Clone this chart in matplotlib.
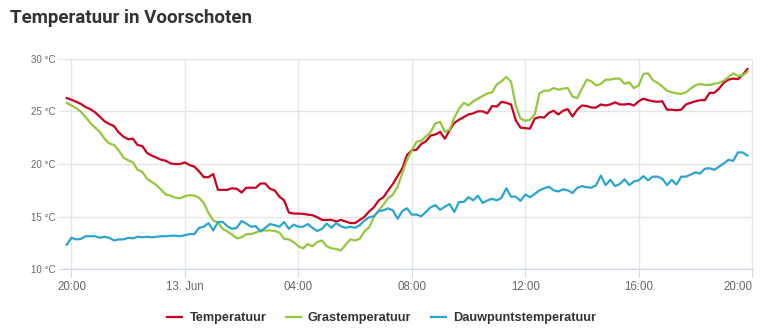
import matplotlib
matplotlib.use("Agg")
import matplotlib.pyplot as plt
import matplotlib.dates as mdates
import pandas as pd

# 10-minute readings, 12 June 19:50 -> 13 June 19:50
start = "2019-06-12 19:50"

temperatuur = [
    26.25, 26.1, 25.9, 25.7, 25.4, 25.2, 24.9, 24.5, 24.05, 23.8,
    23.6, 23.0, 22.6, 22.35, 22.4, 21.8, 21.7, 21.05, 20.8, 20.6,
    20.4, 20.3, 20.05, 20.0, 20.0, 20.15, 19.9, 19.75, 19.3, 18.75,
    18.75, 19.05, 17.55, 17.55, 17.55, 17.7, 17.65, 17.3, 17.75, 17.75,
    17.75, 18.15, 18.15, 17.65, 17.5, 16.9, 16.55, 15.4, 15.3, 15.3,
    15.27, 15.2, 15.15, 14.95, 14.7, 14.7, 14.7, 14.55, 14.7, 14.55,
    14.4, 14.4, 14.7, 15.0, 15.5, 15.9, 16.55, 16.85, 17.5, 18.1,
    18.85, 19.6, 20.85, 21.3, 21.35, 21.9, 22.15, 22.7, 22.8, 23.05,
    22.4, 23.2, 23.9, 24.2, 24.45, 24.7, 24.8, 25.0, 25.0, 24.8,
    25.5, 25.45, 25.9, 25.8, 25.65, 24.15, 23.45, 23.4, 23.35, 24.3,
    24.45, 24.4, 24.85, 25.05, 24.7, 25.05, 25.2, 24.5, 25.15, 25.55,
    25.5, 25.35, 25.35, 25.65, 25.55, 25.65, 25.85, 25.65, 25.65, 25.7,
    25.55, 25.95, 26.2, 26.05, 25.95, 25.9, 25.95, 25.15, 25.15, 25.1,
    25.15, 25.65, 25.8, 25.95, 26.05, 26.05, 26.75, 26.75, 27.15, 27.7,
    28.0, 28.1, 28.05, 28.45, 29.0,
]

grastemperatuur = [
    25.8, 25.55, 25.3, 24.95, 24.45, 23.9, 23.45, 23.05, 22.4, 21.95,
    21.8, 21.3, 20.6, 20.35, 20.15, 19.45, 19.25, 18.6, 18.3, 18.0,
    17.55, 17.1, 17.0, 16.8, 16.75, 16.95, 17.05, 17.0, 16.8, 16.3,
    15.35, 14.65, 14.45, 13.85, 13.6, 13.3, 12.95, 13.05, 13.35, 13.35,
    13.5, 13.7, 13.7, 13.7, 13.65, 13.5, 12.9, 12.85, 12.6, 12.2,
    12.0, 12.4, 12.2, 12.6, 12.75, 12.2, 12.0, 11.95, 11.8, 12.35,
    12.85, 12.75, 12.9, 13.6, 14.0, 15.0, 15.6, 16.15, 16.75, 17.1,
    17.85, 19.15, 20.4, 21.3, 22.1, 22.2, 22.6, 23.05, 23.85, 24.0,
    23.05, 23.25, 24.4, 25.25, 25.8, 25.55, 25.95, 26.2, 26.45, 26.7,
    26.8, 27.55, 27.85, 28.25, 27.8, 25.55, 24.3, 24.1, 24.2, 24.7,
    26.7, 26.95, 26.95, 27.2, 27.05, 27.15, 27.2, 26.4, 26.25, 27.15,
    28.0, 27.85, 27.45, 27.6, 28.0, 28.0, 28.1, 28.1, 27.6, 27.75,
    27.2, 27.45, 28.55, 28.6, 27.95, 27.7, 27.35, 26.95, 26.8, 26.7,
    26.65, 26.8, 27.15, 27.45, 27.6, 27.5, 27.5, 27.6, 27.7, 27.9,
    28.25, 28.6, 28.35, 28.4, 28.75,
]

dauwpunt = [
    12.35, 13.0, 12.85, 12.9, 13.15, 13.15, 13.15, 13.0, 13.1, 13.0,
    12.75, 12.85, 12.85, 13.0, 12.95, 13.1, 13.05, 13.1, 13.05, 13.1,
    13.15, 13.15, 13.2, 13.2, 13.15, 13.25, 13.35, 13.35, 13.95, 14.05,
    14.4, 13.7, 14.5, 14.5, 14.1, 13.85, 13.95, 14.6, 14.35, 14.05,
    14.1, 13.6, 13.95, 14.3, 14.2, 14.05, 14.5, 13.85, 14.25, 14.05,
    14.05, 14.3, 13.95, 13.65, 13.85, 14.35, 13.95, 14.4, 14.1, 13.95,
    14.05, 13.95, 14.2, 14.65, 14.95, 15.05, 15.55, 15.6, 15.8, 15.6,
    14.8, 15.55, 15.8, 15.2, 15.2, 15.05, 15.45, 15.9, 16.1, 15.65,
    15.95, 16.2, 15.45, 16.4, 16.4, 16.85, 16.55, 17.0, 16.3, 16.55,
    16.7, 16.55, 16.8, 17.7, 16.9, 16.9, 16.5, 17.1, 16.85, 17.15,
    17.5, 17.7, 17.85, 17.5, 17.4, 17.6, 17.5, 17.25, 17.75, 17.9,
    17.8, 17.75, 18.0, 18.9, 18.0, 18.5, 17.9, 18.1, 18.55, 18.0,
    18.35, 18.45, 18.85, 18.45, 18.8, 18.8, 18.6, 18.0, 18.5, 18.05,
    18.8, 18.8, 19.0, 19.2, 19.1, 19.55, 19.6, 19.45, 19.75, 20.05,
    20.4, 20.3, 21.1, 21.1, 20.8,
]

series_names = ["Temperatuur", "Grastemperatuur", "Dauwpuntstemperatuur"]
colors = ["#cc0020", "#94c83c", "#2aa5cf"]
y_ticks = [10, 15, 20, 25, 30]

times = pd.date_range(start, periods=len(temperatuur), freq="10min")

fig = plt.figure(figsize=(7.63, 3.29), dpi=100)
ax = fig.add_axes([0.080, 0.181, 0.907, 0.641])

for vals, name, c in zip([temperatuur, grastemperatuur, dauwpunt], series_names, colors):
    ax.plot(times, vals, color=c, lw=1.6, label=name, solid_joinstyle="round")

ax.set_ylim(10, 30)
ax.set_yticks(y_ticks)
ax.set_yticklabels([f"{v} °C" for v in y_ticks])
ax.set_xlim(pd.Timestamp("2019-06-12 19:38"), pd.Timestamp("2019-06-13 20:02"))

ax.xaxis.set_major_locator(mdates.HourLocator(byhour=[0, 4, 8, 12, 16, 20]))
def fmt_time(x, pos=None):
    d = mdates.num2date(x)
    return "13. Jun" if d.hour == 0 else d.strftime("%H:%M")
ax.xaxis.set_major_formatter(plt.FuncFormatter(fmt_time))

ax.grid(True, color="#e6e6e6", lw=1)
ax.set_axisbelow(True)
for s in ["top", "right", "left"]:
    ax.spines[s].set_visible(False)
ax.spines["bottom"].set_color("#ccd6eb")
ax.tick_params(axis="x", colors="#ccd6eb", length=6, labelcolor="#666666",
               labelsize=8.3, pad=2)
ax.tick_params(axis="y", colors="#e6e6e6", length=2, labelcolor="#666666",
               labelsize=7, pad=2)
for lbl in ax.get_xticklabels() + ax.get_yticklabels():
    lbl.set_fontfamily("Liberation Sans")
# keep the last time label inside the figure
fig.canvas.draw()
ax.get_xticklabels()[-1].set_horizontalalignment("right")

fig.text(0.013, 0.945, "Temperatuur in Voorschoten", fontsize=13.5,
         fontweight="bold", color="#333333", family="Roboto", va="center")

leg = fig.legend(loc="center", bbox_to_anchor=(0.5, 0.033), ncol=3,
                 frameon=False, handlelength=1.2, columnspacing=1.5,
                 handletextpad=0.55,
                 prop={"family": "Liberation Sans", "weight": "bold", "size": 9.2})
for t in leg.get_texts():
    t.set_color("#333333")

fig.savefig("out.png", dpi=100)
